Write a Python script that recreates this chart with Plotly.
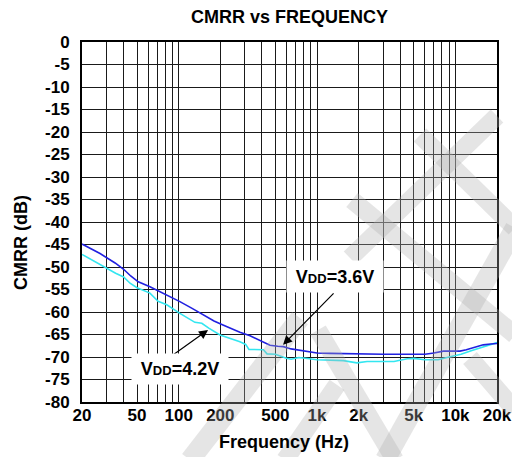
import numpy as np
import plotly.graph_objects as go

# ---------------- data ----------------
freq_36 = [20, 27, 34.7, 40, 45, 51, 62, 80, 102, 125, 151, 180, 209, 250, 277, 328,
           400, 457, 520, 571, 650, 754, 891, 1000, 1240, 1600, 2000, 2420, 3000,
           4000, 5000, 6040, 7000, 8200, 9500, 10800, 12000, 14000, 15900, 18000, 20000]
cmrr_36 = [-44.9, -47.0, -49.1, -50.5, -52.0, -53.3, -54.4, -56.0, -57.7, -59.2, -60.7,
           -62.0, -62.9, -64.0, -64.5, -65.3, -66.5, -67.4, -67.6, -67.7, -68.2, -68.5,
           -69.0, -69.1, -69.2, -69.3, -69.4, -69.4, -69.4, -69.4, -69.4, -69.4, -69.1,
           -68.7, -68.7, -68.7, -68.4, -67.8, -67.3, -67.1, -67.0]

freq_42 = [20, 25, 30, 35, 40, 44.5, 50, 62, 71, 82, 102, 115, 131, 147, 165, 199, 240,
           277, 305, 322, 410, 435, 500, 600, 650, 740, 880, 1000, 1550, 1940, 2300,
           3600, 4500, 5000, 6000, 7500, 9000, 11000, 13000, 16000, 20000]
cmrr_42 = [-47.2, -48.9, -50.3, -51.4, -52.2, -53.6, -54.6, -55.8, -57.6, -58.4, -60.3,
           -61.2, -62.3, -62.5, -63.6, -65.1, -65.9, -66.6, -67.2, -68.3, -68.4, -69.3,
           -69.4, -70.3, -70.5, -70.1, -70.4, -70.6, -70.8, -71.3, -71.0, -71.0, -70.4,
           -70.3, -70.6, -70.6, -70.0, -69.4, -68.6, -67.7, -66.8]

grid_freqs = [20, 30, 40, 50, 60, 70, 80, 90,
              100, 200, 300, 400, 500, 600, 700, 800, 900,
              1000, 2000, 3000, 4000, 5000, 6000, 7000, 8000, 9000,
              10000, 20000]
labelled = {20: "20", 50: "50", 100: "100", 200: "200", 500: "500", 1000: "1k",
            2000: "2k", 5000: "5k", 10000: "10k", 20000: "20k"}
x_tick_text = [f"<b>{labelled[f]}</b>" if f in labelled else "" for f in grid_freqs]
y_ticks = list(range(-80, 1, 5))
y_tick_text = [f"<b>{v}</b>" for v in y_ticks]

label_36 = "<b>V<span style='font-size:13px'>DD</span>=3.6V</b>"
label_42 = "<b>V<span style='font-size:13px'>DD</span>=4.2V</b>"

# ---------------- figure ----------------
W, H = 512, 457
ML, MR, MT, MB = 82, 15, 42, 55
FONT = "Liberation Sans"

fig = go.Figure()
fig.add_trace(go.Scatter(x=freq_42, y=cmrr_42, mode="lines",
                         line=dict(color="#33e6f0", width=1.6), showlegend=False))
fig.add_trace(go.Scatter(x=freq_36, y=cmrr_36, mode="lines",
                         line=dict(color="#2020e0", width=1.6), showlegend=False))

# annotations: arrows (tip in data space) + labels
fig.add_annotation(x=np.log10(568), y=-67.3, xref="x", yref="y", text="",
                   showarrow=True, ax=52, ay=-53, arrowhead=2, arrowsize=1.5,
                   arrowwidth=1.2, arrowcolor="black")
fig.add_annotation(x=np.log10(163), y=-64.0, xref="x", yref="y", text="",
                   showarrow=True, ax=-38, ay=27, arrowhead=2, arrowsize=1.5,
                   arrowwidth=1.2, arrowcolor="black")
fig.add_annotation(x=np.log10(1349), y=-52.2, xref="x", yref="y", text=label_36,
                   showarrow=False, bgcolor="white", width=94, height=29,
                   font=dict(family=FONT, size=18, color="black"))
fig.add_annotation(x=np.log10(102), y=-72.7, xref="x", yref="y", text=label_42,
                   showarrow=False, bgcolor="white", width=94, height=28,
                   font=dict(family=FONT, size=18, color="black"))

# axis titles
fig.add_annotation(x=(21 - ML) / (W - ML - MR), y=(H - MB - 242) / (H - MT - MB),
                   xref="paper", yref="paper", xanchor="center", yanchor="middle",
                   text="<b>CMRR (dB)</b>", textangle=-90,
                   showarrow=False, font=dict(family=FONT, size=18, color="black"))
fig.add_annotation(x=(284 - ML) / (W - ML - MR), y=(H - MB - 442) / (H - MT - MB),
                   xref="paper", yref="paper", xanchor="center", yanchor="middle",
                   text="<b>Frequency (Hz)</b>",
                   showarrow=False, font=dict(family=FONT, size=18, color="black"))

# watermark bands (decorative), defined in pixels -> paper coords
PW, PH = W - ML - MR, H - MT - MB
def px2paper(px, py):
    return (px - ML) / PW, (H - MB - py) / PH

def band(x0, y0, x1, y1, hw):
    dx, dy = x1 - x0, y1 - y0
    L = (dx * dx + dy * dy) ** 0.5
    nx, ny = -dy / L * hw, dx / L * hw
    pts = [(x0 + nx, y0 + ny), (x1 + nx, y1 + ny), (x1 - nx, y1 - ny), (x0 - nx, y0 - ny)]
    p = [px2paper(a, b) for a, b in pts]
    return "M " + " L ".join(f"{a:.4f},{b:.4f}" for a, b in p) + " Z"

wm = [(420, 135, 515, 228, 9), (497, 116, 350, 258, 9), (352, 200, 515, 335, 9),
      (515, 228, 385, 460, 10), (300, 318, 190, 460, 10), (337, 385, 285, 460, 9),
      (318, 330, 395, 460, 9), (470, 358, 515, 410, 9)]
for b in wm:
    fig.add_shape(type="path", path=band(*b), xref="paper", yref="paper",
                  fillcolor="rgba(175,175,175,0.33)", line=dict(width=0), layer="above")

axis_common = dict(showline=True, linecolor="black", linewidth=2, mirror=True,
                   showgrid=True, gridcolor="#1a1a1a", gridwidth=1, zeroline=False,
                   ticks="", automargin=False,
                   tickfont=dict(family=FONT, size=17, color="black"))

fig.update_xaxes(type="log", range=[np.log10(20), np.log10(20000)],
                 tickmode="array", tickvals=grid_freqs, ticktext=x_tick_text,
                 ticklabelstandoff=-3, **axis_common)
fig.update_yaxes(range=[-80, 0], tickmode="array", tickvals=y_ticks,
                 ticktext=y_tick_text, ticklabelstandoff=7, **axis_common)

fig.update_layout(
    width=W, height=H, margin=dict(l=ML, r=MR, t=MT, b=MB, autoexpand=False),
    paper_bgcolor="white", plot_bgcolor="white",
    title=dict(text="<b>CMRR vs FREQUENCY</b>", x=0.5, xref="paper", xanchor="center",
               y=1 - 17 / H, yref="container", yanchor="middle",
               font=dict(family=FONT, size=18, color="black")),
)

fig.write_html("out.html", config={"displayModeBar": False},
               post_script="document.body.style.margin='0';document.body.style.padding='0';")
